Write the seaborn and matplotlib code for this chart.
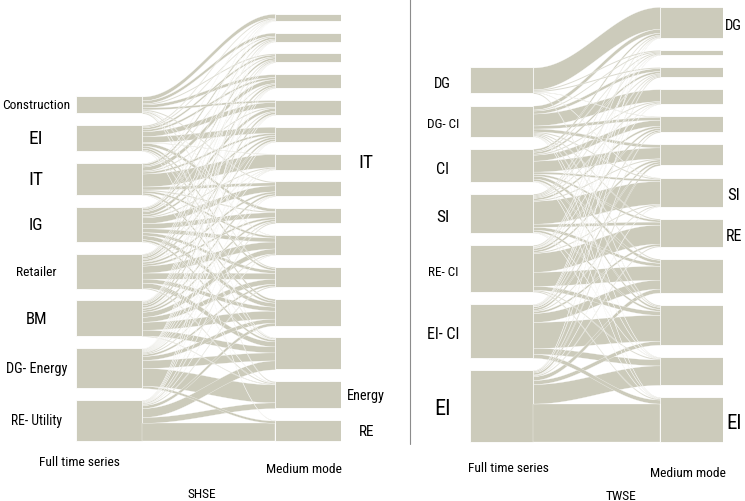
"""
Alluvial plots of sector membership: full time series vs medium mode,
for the SHSE (left) and TWSE (right) markets.
"""

import numpy as np
import matplotlib
matplotlib.use("Agg")
import matplotlib.pyplot as plt
import seaborn as sns

sns.set_theme(style="white")
plt.rcParams["font.family"] = ["DejaVu Sans Condensed", "Liberation Sans Narrow",
                               "Roboto Condensed", "Liberation Sans", "DejaVu Sans"]
plt.rcParams["font.stretch"] = "condensed"
plt.rcParams["text.color"] = "black"

FILL = "#cccbbb"

# ---- SHSE data ----
shse_sources = ["Construction", "EI", "IT", "IG", "Retailer", "BM",
                "DG- Energy", "RE- Utility"]
shse_source_fs = [9.6, 14, 14, 12.5, 9.7, 12, 10.3, 9.8]
shse_targets = ["", "", "", "", "", "", "IT", "", "", "", "", "", "",
                "Energy", "RE"]
shse_target_fs = [0, 0, 0, 0, 0, 0, 14, 0, 0, 0, 0, 0, 0, 10.3, 11]
# rows: full time series clusters, cols: medium mode clusters
shse_flows = [
    [4.0, 3.0, 1.0, 3.0, 2.0, 0.0, 0.0, 1.0, 0.0, 0.5, 1.0, 0.0, 0.5, 1.0, 0.0],
    [1.0, 1.0, 2.0, 2.0, 5.0, 6.0, 0.5, 0.0, 3.0, 0.0, 2.0, 2.0, 1.0, 0.0, 0.5],
    [0.5, 2.0, 1.0, 4.0, 1.0, 2.0, 13., 3.0, 1.0, 2.0, 0.0, 2.0, 0.5, 0.0, 0.0],
    [0.5, 1.0, 2.0, 1.0, 3.0, 2.0, 1.0, 6.0, 5.0, 4.0, 3.0, 4.0, 2.0, 0.5, 0.0],
    [0.5, 1.0, 1.0, 2.0, 1.0, 2.0, 0.5, 2.0, 2.0, 7.0, 6.0, 4.0, 5.0, 1.0, 0.0],
    [0.3, 0.5, 1.0, 1.0, 2.0, 2.0, 0.5, 2.0, 2.0, 5.0, 5.0, 8.0, 6.0, 0.7, 0.0],
    [0.2, 0.5, 0.5, 0.5, 0.5, 0.5, 0.5, 0.5, 1.0, 1.0, 2.0, 4.0, 8.0, 18., 2.3],
    [0.0, 0.0, 0.5, 0.5, 0.5, 0.5, 0.0, 0.5, 1.0, 0.5, 1.0, 3.0, 9.0, 5.8, 18.2],
]

# ---- TWSE data ----
twse_sources = ["DG", "DG- CI", "CI", "SI", "RE- CI", "EI- CI", "EI"]
twse_source_fs = [10.5, 9.5, 11.5, 12.5, 9.5, 11.5, 16]
twse_targets = ["DG", "", "", "", "", "", "SI", "RE", "", "", "", "EI"]
twse_target_fs = [10.5, 0, 0, 0, 0, 0, 12, 11.5, 0, 0, 0, 15]
twse_flows = [
    [22., 1.0, 1.0, 0.0, 0.5, 0.0, 0.5, 0.0, 0.0, 1.0, 0.0, 0.0],
    [4.0, 1.0, 3.0, 12., 3.0, 3.0, 1.0, 1.0, 1.0, 1.0, 0.5, 0.5],
    [2.0, 1.0, 2.0, 1.0, 6.0, 11., 2.0, 2.0, 3.0, 2.0, 0.5, 0.5],
    [1.0, 1.0, 1.0, 1.0, 2.0, 1.0, 23., 3.0, 3.0, 2.0, 0.5, 0.5],
    [1.0, 0.5, 1.0, 0.5, 2.0, 2.0, 1.0, 19., 14., 4.0, 1.0, 1.0],
    [0.5, 0.5, 1.0, 0.5, 1.5, 2.0, 1.0, 2.0, 9.0, 26., 6.0, 4.0],
    [0.5, 0.0, 1.0, 0.0, 1.0, 2.0, 0.5, 1.0, 4.0, 4.0, 19.5, 38.5],
]


def _stack(sizes, gap):
    """Top edge of each stratum, stacked downwards, bottom one resting on 0."""
    total = sizes.sum() + gap * (len(sizes) - 1)
    return total - np.concatenate([[0], np.cumsum(sizes[:-1] + gap)])


def alluvial(ax, flows, gap, src_labels, src_fs, tgt_labels, tgt_fs,
             src_lx, tgt_lx, label_dy=0.0):
    flows = np.asarray(flows, dtype=float)
    src = flows.sum(axis=1)
    tgt = flows.sum(axis=0)
    src_top = _stack(src, gap)
    tgt_top = _stack(tgt, gap)

    # strata
    ax.bar(0.5, src, bottom=src_top - src, width=1.0, color=FILL,
           edgecolor="white", linewidth=0.6)
    ax.bar(3.5, tgt, bottom=tgt_top - tgt, width=1.0, color=FILL,
           edgecolor="white", linewidth=0.6)

    # ribbons: within a source ordered by target, within a target by source
    out_off = np.cumsum(flows, axis=1) - flows
    in_off = np.cumsum(flows, axis=0) - flows
    xs = np.linspace(1, 3, 80)
    s = 0.5 - 0.5 * np.cos(np.pi * (xs - 1) / 2)
    order = sorted(((flows[i, j], i, j) for i in range(flows.shape[0])
                    for j in range(flows.shape[1]) if flows[i, j] > 0),
                   reverse=True)
    for f, i, j in order:
        y0 = src_top[i] - out_off[i, j]
        y1 = tgt_top[j] - in_off[i, j]
        upper = y0 + (y1 - y0) * s
        ax.fill_between(xs, upper - f, upper, facecolor=FILL,
                        edgecolor="white", linewidth=0.2)

    for lab, fs, top, h in zip(src_labels, src_fs, src_top, src):
        ax.text(src_lx, top - h / 2 + label_dy, lab, fontsize=fs,
                ha="center", va="center", clip_on=False)
    for lab, fs, top, h in zip(tgt_labels, tgt_fs, tgt_top, tgt):
        if lab:
            ax.text(tgt_lx, top - h / 2 + label_dy, lab, fontsize=fs,
                    ha="center", va="center", clip_on=False)

    ax.set_xlim(0, 4)
    ax.axis("off")


W, H = 745, 502
fig = plt.figure(figsize=(W / 100, H / 100), dpi=100)

ax_l = fig.add_axes([76 / W, 0, 265 / W, 1])
ax_l.set_ylim(-60, 442)
alluvial(ax_l, shse_flows, 11.8, shse_sources, shse_source_fs,
         shse_targets, shse_target_fs, src_lx=-0.6, tgt_lx=4.38)
ax_l.text(0.05, -21, "Full time series", fontsize=9.7, ha="center", va="center")
ax_l.text(3.44, -28, "Medium mode", fontsize=9.7, ha="center", va="center")
ax_l.text(1.9, -53, "SHSE", fontsize=9.7, ha="center", va="center")

ax_r = fig.add_axes([470 / W, 0, 253 / W, 1])
ax_r.set_ylim(-59, 443)
alluvial(ax_r, twse_flows, 12.1, twse_sources, twse_source_fs,
         twse_targets, twse_target_fs, src_lx=-0.43, tgt_lx=4.17,
         label_dy=-3)
ax_r.text(0.6, -26, "Full time series", fontsize=9.7, ha="center", va="center")
ax_r.text(3.45, -31, "Medium mode", fontsize=9.7, ha="center", va="center")
ax_r.text(2.39, -54, "TWSE", fontsize=9.7, ha="center", va="center")

# separator between the two markets
fig.add_artist(plt.Line2D([410 / W, 410 / W], [1 - 445 / H, 1],
                          color="#8c8c8c", linewidth=0.8))

fig.savefig("out.png", dpi=100)
